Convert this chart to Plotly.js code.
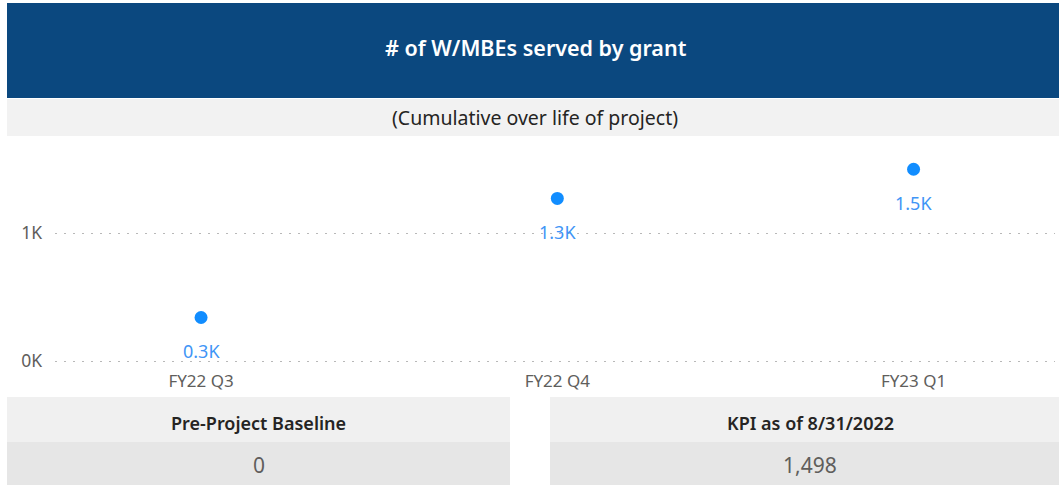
<!DOCTYPE html>
<html>
<head>
<meta charset="utf-8">
<script src="https://cdn.plot.ly/plotly-3.0.1.min.js"></script>
<style>
  html, body { margin: 0; padding: 0; background: #ffffff; }
  #chart { width: 1059px; height: 485px; }
</style>
</head>
<body>
<div id="chart"></div>
<script>
// ---- data ----
const categories = ["FY22 Q3", "FY22 Q4", "FY23 Q1"];
const wmbeServed = [340, 1270, 1498];
const yTickValues = [0, 1000];
const yTickLabels = ["0K", "1K"];
const chartTitle = "# of W/MBEs served by grant";
const chartSubtitle = "(Cumulative over life of project)";
const cardLabels = ["Pre-Project Baseline", "KPI as of 8/31/2022"];
const cardValues = [0, 1498];

// ---- layout helpers (pixel -> paper) ----
const W = 1059, H = 485;
const M = { l: 55, r: 4, t: 140, b: 121 };
const plotW = W - M.l - M.r, plotH = H - M.t - M.b;
const px = x => (x - M.l) / plotW;
const py = y => (H - M.b - y) / plotH;

// y scale: 0 at pixel 361, 128 px per 1000
const Y0PX = 361, PX_PER_UNIT = 0.128;
const yMin = -((H - M.b) - Y0PX) / PX_PER_UNIT;
const yMax = (Y0PX - M.t) / PX_PER_UNIT;

const FONT = "Noto Sans, Open Sans, sans-serif";

function rect(x0, y0, x1, y1, color) {
  return { type: "rect", xref: "paper", yref: "paper", layer: "below",
    x0: px(x0), x1: px(x1), y0: py(y1), y1: py(y0),
    fillcolor: color, line: { width: 0 } };
}
function label(x, y, text, size, color, weight) {
  return { xref: "paper", yref: "paper", x: px(x), y: py(y), text: text,
    showarrow: false, xanchor: "center", yanchor: "middle",
    font: { family: FONT, size: size, color: color, weight: weight || 400 } };
}

const fmtK = v => (v / 1000).toFixed(1) + "K";
const fmtNum = v => v.toLocaleString("en-US");

const trace = {
  type: "scatter", mode: "markers",
  x: categories, y: wmbeServed,
  marker: { color: "#118DFF", size: 13, line: { width: 0 } },
  cliponaxis: false, hoverinfo: "skip"
};

const dataLabels = categories.map((c, i) => ({
  xref: "x", yref: "y", x: c, y: wmbeServed[i], text: fmtK(wmbeServed[i]),
  showarrow: false, yshift: -34, xanchor: "center", yanchor: "middle",
  font: { family: FONT, size: 18, color: "#3f95f6" }
}));

const cardCenters = [258.5, 810];
const layout = {
  width: W, height: H,
  margin: M,
  paper_bgcolor: "#ffffff", plot_bgcolor: "rgba(0,0,0,0)",
  showlegend: false,
  xaxis: {
    type: "category", range: [-0.41, 2.397],
    showgrid: false, zeroline: false, showline: false, ticks: "",
    tickfont: { family: FONT, size: 17, color: "#605E5C" },
    ticklabelstandoff: 5
  },
  yaxis: {
    range: [yMin, yMax], tickvals: yTickValues, ticktext: yTickLabels,
    showgrid: true, gridcolor: "#b8b8b8", gridwidth: 1, griddash: "2px,7px",
    zeroline: false, showline: false, ticks: "",
    tickfont: { family: FONT, size: 17.5, color: "#605E5C" },
    ticklabelstandoff: 12
  },
  shapes: [
    rect(7, 3, 1059, 98, "#0B487F"),
    rect(7, 99, 1059, 136, "#F2F2F2"),
    rect(7, 397, 510, 442, "#F0F0F0"),
    rect(7, 442, 510, 485, "#E6E6E6"),
    rect(550, 397, 1059, 442, "#F0F0F0"),
    rect(550, 442, 1059, 485, "#E6E6E6")
  ],
  annotations: [
    label(535.5, 48, chartTitle, 21.5, "#ffffff", 600),
    label(535, 117, chartSubtitle, 19.5, "#252423"),
    label(cardCenters[0], 422.5, cardLabels[0], 18, "#252423", 600),
    label(cardCenters[1], 422.5, cardLabels[1], 18, "#252423", 600),
    label(cardCenters[0], 465, fmtNum(cardValues[0]), 21, "#605E5C"),
    label(cardCenters[1], 465, fmtNum(cardValues[1]), 21, "#605E5C")
  ].concat(dataLabels)
};

Plotly.newPlot("chart", [trace], layout, { displayModeBar: false, staticPlot: true });
</script>
</body>
</html>
